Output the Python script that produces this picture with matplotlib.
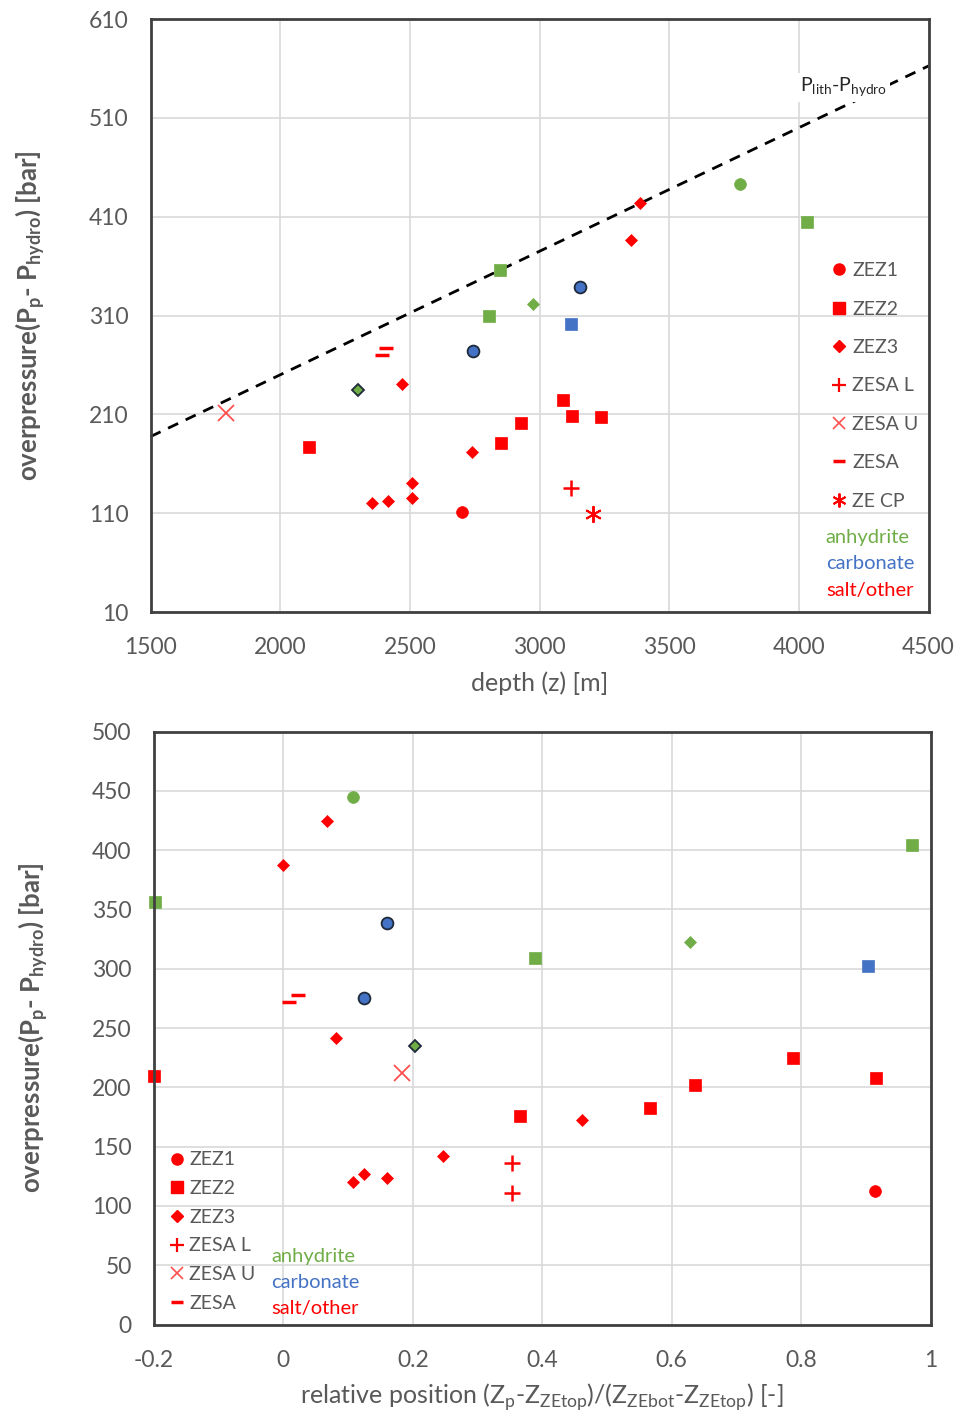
import numpy as np
import matplotlib
matplotlib.use('Agg')
import matplotlib.pyplot as plt
from matplotlib.lines import Line2D

plt.rcParams['font.family'] = ['Lato', 'DejaVu Sans']

GREEN = '#70ad47'
BLUE = '#4472c4'
RED = '#ff0000'
GREY = '#595959'
lith_color = {'anh': GREEN, 'carb': BLUE, 'salt': RED}

# ---- top panel: overpressure vs depth ----
zez1_depth = [3772, 3158, 2744, 2702]
zez1_dp = [443.5, 338.7, 273.8, 111.6]
zez1_lith = ['anh', 'carb', 'carb', 'salt']

zez2_depth = [4031, 2847, 2806, 3120, 2111, 2851, 2928, 3091, 3125, 3236]
zez2_dp = [404.6, 355.6, 310.0, 301.6, 176.5, 181.0, 200.8, 224.5, 208.6, 206.9]
zez2_lith = ['anh', 'anh', 'anh', 'carb', 'salt', 'salt', 'salt', 'salt', 'salt', 'salt']

zez3_depth = [3386, 3354, 2975, 2301, 2470, 2740, 2509, 2509, 2355, 2414]
zez3_dp = [423.8, 386.0, 321.8, 235.0, 240.7, 171.4, 141.0, 125.2, 120.1, 122.5]
zez3_lith = ['salt', 'salt', 'anh', 'anh', 'salt', 'salt', 'salt', 'salt', 'salt', 'salt']

zesal_depth = [3123]
zesal_dp = [135.8]
zesau_depth = [1791]
zesau_dp = [211.0]
zesa_depth = [2407, 2391]
zesa_dp = [277.2, 270.5]
zecp_depth = [3206]
zecp_dp = [109.0]

lith_gradient = 0.125  # bar/m, P_lith - P_hydro
line_depth = [1500, 4500]

# ---- bottom panel: overpressure vs relative position ----
b_zez1_pos = [0.107, 0.160, 0.125, 0.914]
b_zez1_dp = [444.4, 338.9, 275.6, 113.0]
b_zez1_lith = ['anh', 'carb', 'carb', 'salt']

b_zez2_pos = [0.971, -0.198, 0.389, 0.903, -0.200, 0.366, 0.567, 0.636, 0.787, 0.916]
b_zez2_dp = [404.2, 356.3, 309.0, 302.6, 209.2, 176.2, 182.7, 202.1, 225.0, 207.7]
b_zez2_lith = ['anh', 'anh', 'anh', 'carb', 'salt', 'salt', 'salt', 'salt', 'salt', 'salt']

b_zez3_pos = [0.068, 0.000, 0.629, 0.2035, 0.081, 0.461, 0.247, 0.107, 0.125, 0.160]
b_zez3_dp = [424.4, 387.3, 322.3, 234.5, 241.8, 172.6, 142.5, 120.5, 127.0, 123.3]
b_zez3_lith = ['salt', 'salt', 'anh', 'anh', 'salt', 'salt', 'salt', 'salt', 'salt', 'salt']

b_zesal_pos = [0.354, 0.354]
b_zesal_dp = [136.0, 111.0]
b_zesau_pos = [0.184]
b_zesau_dp = [212.0]
b_zesa_pos = [0.023, 0.008]
b_zesa_dp = [277.5, 272.0]


def draw_series(ax, x, y, lith, marker, size, dark_idx=()):
    # points with dark outline are drawn with edge, the rest plain
    for i, (xi, yi, l) in enumerate(zip(x, y, lith)):
        c = lith_color[l]
        if i in dark_idx:
            ax.plot([xi], [yi], ls='none', marker=marker, ms=size, mfc=c,
                    mec='#1e2a3a', mew=1.3)
        else:
            ax.plot([xi], [yi], ls='none', marker=marker, ms=size, mfc=c,
                    mec=c, mew=0.5)


def style_axes(ax):
    ax.grid(True, color='#d9d9d9', lw=1.2)
    ax.set_axisbelow(True)
    for s in ax.spines.values():
        s.set_color('#404040')
        s.set_linewidth(2.0)
    ax.tick_params(length=0, labelsize=16.5, labelcolor=GREY)
    ax.tick_params(axis='x', pad=18)
    ax.tick_params(axis='y', pad=16)


def legend_handles(with_cp):
    h = [Line2D([], [], ls='none', marker='o', ms=8, mfc=RED, mec=RED, label='ZEZ1'),
         Line2D([], [], ls='none', marker='s', ms=8, mfc=RED, mec=RED, label='ZEZ2'),
         Line2D([], [], ls='none', marker='D', ms=6.5, mfc=RED, mec=RED, label='ZEZ3'),
         Line2D([], [], ls='none', marker='+', ms=10, mec=RED, mew=1.6, label='ZESA L'),
         Line2D([], [], ls='none', marker='x', ms=9, mec='#ff5050', mew=1.2, label='ZESA U'),
         Line2D([], [], ls='none', marker='_', ms=9, mec=RED, mew=2.5, label='ZESA')]
    if with_cp:
        h.append(Line2D([], [], ls='none', marker=(6, 2, 0), ms=10, mec=RED, mew=1.4,
                        label='ZE CP'))
    return h


def lith_text(ax, x, ys):
    for y, t, c in zip(ys, ['anhydrite', 'carbonate', 'salt/other'], [GREEN, BLUE, RED]):
        ax.text(x, y, t, color=c, fontsize=14.5, transform=ax.transAxes,
                ha='left', va='center')


ylab = r'overpressure(P$_\mathregular{p}$- P$_\mathregular{hydro}$) [bar]'

fig = plt.figure(figsize=(9.68, 14.18), dpi=100)

# top
ax1 = fig.add_axes([0.1555, 0.5684, 0.8037, 0.4182])
style_axes(ax1)
ax1.plot(line_depth, [lith_gradient * z for z in line_depth], color='black',
         ls=(0, (4, 3)), lw=2.0, zorder=2)
draw_series(ax1, zez1_depth, zez1_dp, zez1_lith, 'o', 8.5, dark_idx=(1, 2))
draw_series(ax1, zez2_depth, zez2_dp, zez2_lith, 's', 8.5)
draw_series(ax1, zez3_depth, zez3_dp, zez3_lith, 'D', 6.5, dark_idx=(3,))
ax1.plot(zesal_depth, zesal_dp, ls='none', marker='+', ms=11, mec=RED, mew=1.8)
ax1.plot(zesau_depth, zesau_dp, ls='none', marker='x', ms=11, mec='#ff5050', mew=1.3)
ax1.plot(zesa_depth, zesa_dp, ls='none', marker='_', ms=10, mec=RED, mew=2.5)
ax1.plot(zecp_depth, zecp_dp, ls='none', marker=(6, 2, 0), ms=12, mec=RED, mew=1.4)
ax1.text(0.835, 0.885, r'P$_{\mathregular{lith}}$-P$_{\mathregular{hydro}}$',
         transform=ax1.transAxes, fontsize=14, color='#262626', ha='left', va='center',
         bbox=dict(facecolor='white', edgecolor='none', pad=2))
ax1.set_xlim(1500, 4500)
ax1.set_ylim(10, 610)
ax1.set_xticks(np.arange(1500, 4501, 500))
ax1.set_yticks(np.arange(10, 611, 100))
ax1.set_xlabel('depth (z) [m]', fontsize=18, color=GREY, labelpad=10)
ax1.set_ylabel(ylab, fontsize=18.5, color=GREY, fontweight='bold', labelpad=30)
leg1 = ax1.legend(handles=legend_handles(True), loc='upper left',
                  bbox_to_anchor=(0.868, 0.603), frameon=False, fontsize=14,
                  labelspacing=1.1, handlelength=0.6, handletextpad=0.35,
                  borderaxespad=0)
for t in leg1.get_texts():
    t.set_color(GREY)
lith_text(ax1, 0.868, [0.125, 0.081, 0.037])

# bottom
ax2 = fig.add_axes([0.159, 0.0659, 0.8023, 0.4182])
style_axes(ax2)
draw_series(ax2, b_zez1_pos, b_zez1_dp, b_zez1_lith, 'o', 8.5, dark_idx=(1, 2))
draw_series(ax2, b_zez2_pos, b_zez2_dp, b_zez2_lith, 's', 8.5)
draw_series(ax2, b_zez3_pos, b_zez3_dp, b_zez3_lith, 'D', 6.5, dark_idx=(3,))
ax2.plot(b_zesal_pos, b_zesal_dp, ls='none', marker='+', ms=11, mec=RED, mew=1.8)
ax2.plot(b_zesau_pos, b_zesau_dp, ls='none', marker='x', ms=11, mec='#ff5050', mew=1.3)
ax2.plot(b_zesa_pos, b_zesa_dp, ls='none', marker='_', ms=10, mec=RED, mew=2.5)
for a in (ax1, ax2):
    for ln in a.lines:
        ln.set_clip_on(False)
ax2.set_xlim(-0.2, 1.0)
ax2.set_ylim(0, 500)
xt = np.round(np.arange(-0.2, 1.01, 0.2), 1)
ax2.set_xticks(xt)
ax2.set_xticklabels(['%g' % v for v in xt])
ax2.set_yticks(np.arange(0, 501, 50))
ax2.set_xlabel(r'relative position (Z$_\mathregular{p}$-Z$_\mathregular{ZEtop}$)/'
               r'(Z$_\mathregular{ZEbot}$-Z$_\mathregular{ZEtop}$) [-]',
               fontsize=18, color=GREY, labelpad=8)
ax2.set_ylabel(ylab, fontsize=18.5, color=GREY, fontweight='bold', labelpad=30)
leg2 = ax2.legend(handles=legend_handles(False), loc='upper left',
                  bbox_to_anchor=(0.012, 0.305), frameon=False, fontsize=14,
                  labelspacing=0.6, handlelength=0.6, handletextpad=0.35,
                  borderaxespad=0)
for t in leg2.get_texts():
    t.set_color(GREY)
lith_text(ax2, 0.151, [0.115, 0.071, 0.027])

fig.savefig('out.png', dpi=100)
